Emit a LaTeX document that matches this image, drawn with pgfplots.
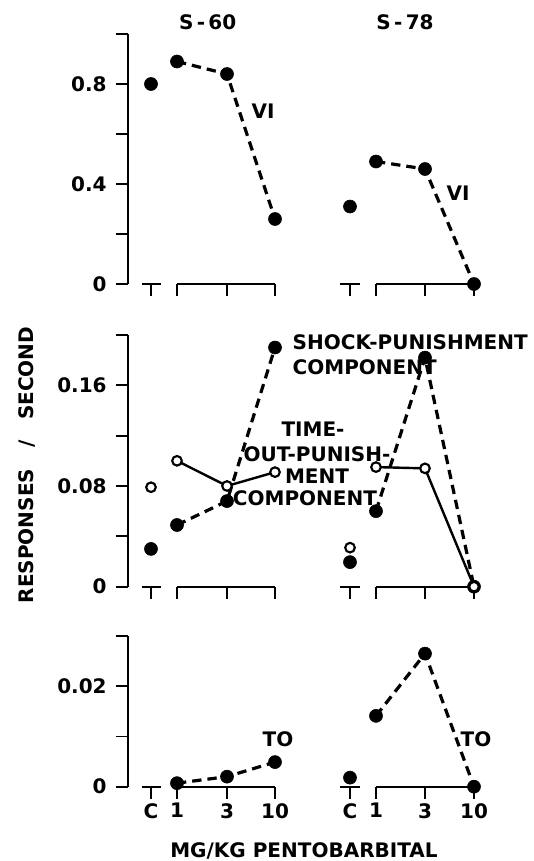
\documentclass[border=0pt]{standalone}
\usepackage{fontspec}
\setmainfont{DejaVu Sans}
\usepackage{pgfplots}
\pgfplotsset{compat=1.18}
\newcommand{\lab}{\fontsize{15}{18}\selectfont\bfseries}
\pgfplotsset{
  panel/.style={
    scale only axis, width=279pt, xmin=128, xmax=500, ymin=0,
    anchor=south west, clip=false, scaled y ticks=false,
    axis x line*=bottom, axis y line*=left,
    x axis line style={draw=none},
    y axis line style={line width=1.4pt, -},
    tick align=outside, major tick length=9pt, minor tick length=9pt,
    tick style={line width=1.4pt, black},
    xtick={151,177,227,275,350,376,425,474}, xticklabels={},
    ticklabel style={font=\lab},
    yticklabel style={xshift=-3.5pt},
  },
  fill dot/.style={only marks, mark=*, mark size=4.9pt, mark options={fill=black, draw=black, line width=0.4pt}},
  open dot/.style={only marks, mark=*, mark size=3.6pt, mark options={fill=white, draw=black, line width=1.6pt}},
  dashline/.style={black, line width=2.4pt, dash pattern=on 7pt off 4.5pt, mark=*, mark size=4.9pt, mark options={solid, fill=black, line width=0.4pt}},
  solidline/.style={black, line width=1.8pt, mark=*, mark size=3.6pt, mark options={fill=white, draw=black, line width=1.6pt}},
}
\newcommand{\baselines}{%
  \draw[line width=1.4pt] (axis cs:142,0) -- (axis cs:161,0);
  \draw[line width=1.4pt] (axis cs:177,0) -- (axis cs:275,0);
  \draw[line width=1.4pt] (axis cs:340,0) -- (axis cs:360,0);
  \draw[line width=1.4pt] (axis cs:376,0) -- (axis cs:474,0);
}
\begin{document}
\begin{tikzpicture}[font=\lab]
\useasboundingbox (0,0) rectangle (400.5pt,-645.75pt);
% ---------- top: VI ----------
\begin{axis}[panel, at={(96pt,-213pt)}, height=187.5pt, ymax=1.0,
  ytick={0,0.4,0.8}, yticklabels={0,0.4,0.8}, minor ytick={0.2,0.6,1.0}]
\baselines
\addplot[fill dot] coordinates {(151,0.80)};
\addplot[dashline] coordinates {(177,0.89) (227,0.84) (275,0.26)};
\addplot[fill dot] coordinates {(350,0.31)};
\addplot[dashline] coordinates {(376,0.49) (425,0.46) (474,0.0)};
\node at (axis cs:263,0.69) {VI};
\node at (axis cs:458,0.364) {VI};
\end{axis}
% ---------- middle: shock / time-out ----------
\begin{axis}[panel, at={(96pt,-440pt)}, height=188.8pt, ymax=0.2,
  ytick={0,0.08,0.16}, yticklabels={0,0.08,0.16}, minor ytick={0.04,0.12,0.2}]
\baselines
\addplot[open dot] coordinates {(151,0.079)};
\addplot[fill dot] coordinates {(151,0.030)};
\addplot[solidline] coordinates {(177,0.100) (227,0.080) (275,0.091)};
\addplot[dashline] coordinates {(177,0.049) (227,0.068) (275,0.190)};
\addplot[open dot] coordinates {(350,0.031)};
\addplot[fill dot] coordinates {(350,0.0195)};
\addplot[dashline] coordinates {(376,0.060) (425,0.182) (474,0)};
\addplot[solidline] coordinates {(376,0.095) (425,0.094) (474,0)};
\node[anchor=west] at (axis cs:288,0.1943) {SHOCK-PUNISHMENT};
\node[anchor=west] at (axis cs:288,0.1744) {COMPONENT};
\node at (axis cs:313,0.125) {TIME-};
\node at (axis cs:317,0.105) {OUT-PUNISH-};
\node at (axis cs:317,0.0875) {MENT};
\node at (axis cs:305,0.070) {COMPONENT};
\end{axis}
% ---------- bottom: TO ----------
\begin{axis}[panel, at={(96pt,-590pt)}, height=113pt, ymax=0.03,
  ytick={0,0.02}, yticklabels={0,0.02}, minor ytick={0.01,0.03},
  xticklabels={C,1,3,10,C,1,3,10}]
\baselines
\addplot[dashline] coordinates {(177,0.0007) (227,0.002) (275,0.0049)};
\addplot[fill dot] coordinates {(350,0.0018)};
\addplot[dashline] coordinates {(376,0.0141) (425,0.0265) (474,0)};
\node at (axis cs:278,0.0094) {TO};
\node at (axis cs:476,0.0094) {TO};
\end{axis}
% ---------- titles and labels ----------
\node at (155.8pt,-16.5pt) {S\,-\,60};
\node at (303.8pt,-16.5pt) {S\,-\,78};
\node[rotate=90] at (20.5pt,-348.7pt) {RESPONSES\ \ \ /\ \ \ SECOND};
\node at (228pt,-638pt) {MG/KG PENTOBARBITAL};
\end{tikzpicture}
\end{document}
